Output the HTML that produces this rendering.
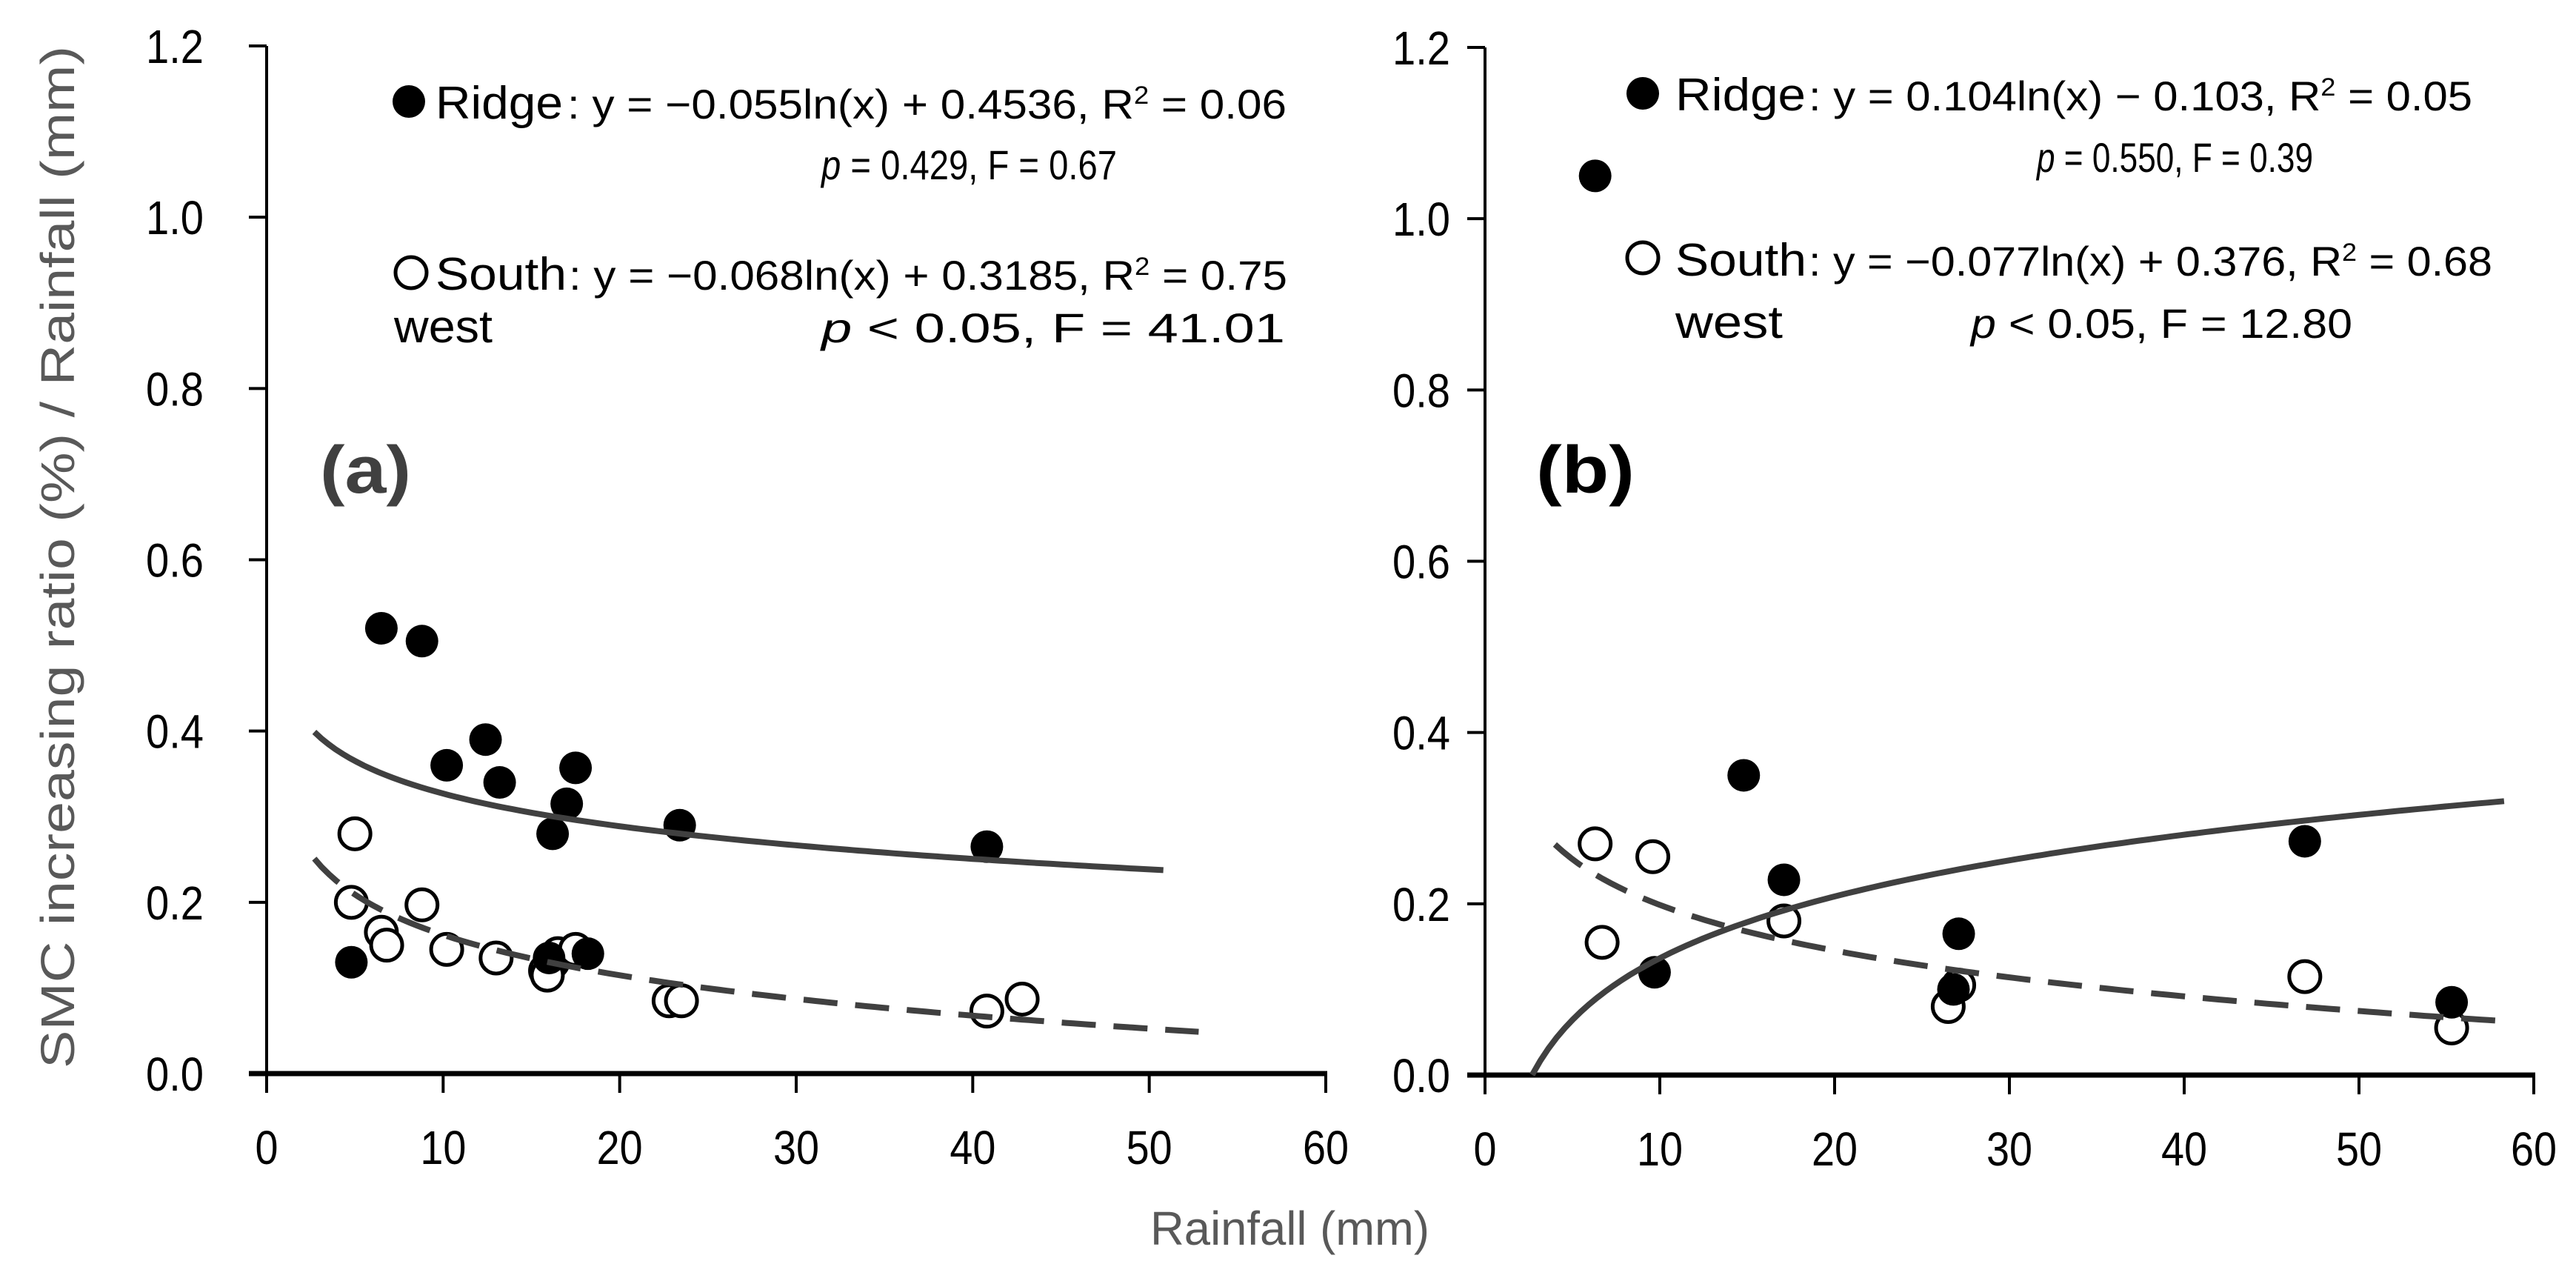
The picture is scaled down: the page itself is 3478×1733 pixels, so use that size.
<!DOCTYPE html>
<html><head><meta charset="utf-8"><style>
html,body{margin:0;padding:0;background:#fff;}
svg{display:block;font-family:"Liberation Sans",sans-serif;}
</style></head><body>
<svg id="chart" width="3478" height="1733" viewBox="0 0 3478 1733" xmlns="http://www.w3.org/2000/svg">
<rect width="3478" height="1733" fill="#fff"/>
<g id="gA"></g>
<g id="gB"></g>
<text transform="translate(100,752) rotate(-90)" text-anchor="middle" font-size="64" fill="#595959" textLength="1380" lengthAdjust="spacingAndGlyphs">SMC increasing ratio (%) / Rainfall (mm)</text>
<text x="1553" y="1680" font-size="64" fill="#595959" textLength="377" lengthAdjust="spacingAndGlyphs">Rainfall (mm)</text>

<text x="432" y="665" font-size="90" font-weight="bold" fill="#404040" textLength="123" lengthAdjust="spacingAndGlyphs">(a)</text>
<text x="2074" y="665" font-size="90" font-weight="bold" fill="#000" textLength="133" lengthAdjust="spacingAndGlyphs">(b)</text>

<g font-size="56" fill="#000">
<circle cx="552" cy="137" r="22" fill="#000"/>
<text x="588" y="160" font-size="62" textLength="172" lengthAdjust="spacingAndGlyphs">Ridge</text>
<text x="766" y="160" textLength="971" lengthAdjust="spacingAndGlyphs">: y = −0.055ln(x) + 0.4536, R<tspan font-size="34" dy="-20">2</tspan><tspan dy="20"> = 0.06</tspan></text>
<text x="1109" y="242" textLength="399" lengthAdjust="spacingAndGlyphs"><tspan font-style="italic">p</tspan> = 0.429, F = 0.67</text>
<circle cx="555" cy="368" r="21" fill="#fff" stroke="#000" stroke-width="5"/>
<text x="588" y="391" font-size="62" textLength="177" lengthAdjust="spacingAndGlyphs">South</text>
<text x="768" y="391" textLength="970" lengthAdjust="spacingAndGlyphs">: y = −0.068ln(x) + 0.3185, R<tspan font-size="34" dy="-20">2</tspan><tspan dy="20"> = 0.75</tspan></text>
<text x="532" y="462" font-size="62" textLength="133" lengthAdjust="spacingAndGlyphs">west</text>
<text x="1109" y="462" textLength="626" lengthAdjust="spacingAndGlyphs"><tspan font-style="italic">p</tspan> &lt; 0.05, F = 41.01</text>
</g>

<g font-size="56" fill="#000">
<circle cx="2218" cy="126" r="22" fill="#000"/>
<text x="2262" y="149" font-size="62" textLength="176" lengthAdjust="spacingAndGlyphs">Ridge</text>
<text x="2442" y="149" textLength="896" lengthAdjust="spacingAndGlyphs">: y = 0.104ln(x) − 0.103, R<tspan font-size="34" dy="-20">2</tspan><tspan dy="20"> = 0.05</tspan></text>
<text x="2750" y="232" textLength="373" lengthAdjust="spacingAndGlyphs"><tspan font-style="italic">p</tspan> = 0.550, F = 0.39</text>
<circle cx="2218" cy="348" r="21" fill="#fff" stroke="#000" stroke-width="5"/>
<text x="2262" y="372" font-size="62" textLength="177" lengthAdjust="spacingAndGlyphs">South</text>
<text x="2442" y="372" textLength="923" lengthAdjust="spacingAndGlyphs">: y = −0.077ln(x) + 0.376, R<tspan font-size="34" dy="-20">2</tspan><tspan dy="20"> = 0.68</tspan></text>
<text x="2262" y="456" font-size="62" textLength="145" lengthAdjust="spacingAndGlyphs">west</text>
<text x="2661" y="456" textLength="515" lengthAdjust="spacingAndGlyphs"><tspan font-style="italic">p</tspan> &lt; 0.05, F = 12.80</text>
</g>
</svg>
<script>
const xTicks = [0, 10, 20, 30, 40, 50, 60];
const yTicks = [0.0, 0.2, 0.4, 0.6, 0.8, 1.0, 1.2];
const yTickLabels = ["0.0", "0.2", "0.4", "0.6", "0.8", "1.0", "1.2"];

const ridgeAx = [6.5, 8.8, 10.2, 12.4, 13.2, 17.0, 17.5, 16.2, 23.4, 40.8, 4.8, 18.2, 16.0];
const ridgeAy = [0.52, 0.505, 0.36, 0.39, 0.34, 0.315, 0.357, 0.28, 0.29, 0.265, 0.13, 0.14, 0.135];
const swAx = [5.0, 4.8, 6.5, 6.8, 8.8, 10.2, 13.0, 15.8, 16.2, 16.5, 17.5, 22.8, 23.5, 40.8, 42.8, 15.9];
const swAy = [0.28, 0.2, 0.165, 0.15, 0.197, 0.145, 0.135, 0.12, 0.13, 0.14, 0.145, 0.085, 0.085, 0.073, 0.087, 0.115];
const ridgeBx = [6.3, 9.7, 14.8, 17.1, 26.8, 27.1, 46.9, 55.3];
const ridgeBy = [1.05, 0.12, 0.35, 0.228, 0.1, 0.165, 0.273, 0.085];
const swBx = [6.3, 6.7, 9.6, 17.1, 26.5, 27.1, 46.9, 55.3];
const swBy = [0.27, 0.155, 0.255, 0.18, 0.08, 0.105, 0.115, 0.055];

const fitRidgeA = [-0.055, 0.4536]; const rangeRidgeA = [2.7, 50.8];
const fitSwA = [-0.068, 0.3185]; const rangeSwA = [2.7, 52.8];
const fitRidgeB = [0.104, -0.103]; const rangeRidgeB = [2.7, 58.3];
const fitSwB = [-0.077, 0.376]; const rangeSwB = [4.0, 58.3];

const NS = "http://www.w3.org/2000/svg";
function mk(tag, attrs, parent) {
  const e = document.createElementNS(NS, tag);
  for (const k in attrs) e.setAttribute(k, attrs[k]);
  parent.appendChild(e);
  return e;
}
function labelLen(s) {
  let w = 0;
  for (const ch of s) w += (ch === ".") ? 16 : 31;
  return w;
}

function panel(g, x0px, x60px, y0px, ytopPx, labelRight, ridgeX, ridgeY, swX, swY, fitR, rangeR, fitS, rangeS, tag) {
  const sx = v => x0px + (x60px - x0px) * v / 60;
  const sy = v => y0px - (y0px - ytopPx) * v / 1.2;
  let e = mk("line", {x1: x0px, y1: sy(1.2), x2: x0px, y2: y0px + 26, stroke: "#000", "stroke-width": 4}, g);
  
  
  yTicks.forEach((t, i) => {
    const tk = mk("line", {x1: x0px - 24, y1: sy(t), x2: x0px, y2: sy(t), stroke: "#000", "stroke-width": 4}, g);
    
    
    const s = yTickLabels[i];
    const L = labelLen(s);
    const lb = mk("text", {x: labelRight - L, y: sy(t) + 23, "font-size": 64, fill: "#000", textLength: L, lengthAdjust: "spacingAndGlyphs"}, g);
    
    
    lb.textContent = s;
  });
  e = mk("line", {x1: x0px - 24, y1: y0px, x2: x60px + 2, y2: y0px, stroke: "#000", "stroke-width": 7}, g);
  
  
  xTicks.forEach(t => {
    const tk = mk("line", {x1: sx(t), y1: y0px, x2: sx(t), y2: y0px + 26, stroke: "#000", "stroke-width": 4}, g);
    
    
    const s = String(t);
    const L = labelLen(s);
    const lb = mk("text", {x: sx(t) - L / 2, y: y0px + 122, "font-size": 64, fill: "#000", textLength: L, lengthAdjust: "spacingAndGlyphs"}, g);
    
    
    lb.textContent = s;
  });
  function curve(fit, range, dashed, name) {
    let d = "";
    const n = 120;
    for (let i = 0; i <= n; i++) {
      const xv = range[0] + (range[1] - range[0]) * i / n;
      const yv = Math.max(0, fit[0] * Math.log(xv) + fit[1]);
      d += (i ? "L" : "M") + sx(xv).toFixed(1) + " " + sy(yv).toFixed(1);
    }
    const p = mk("path", {d: d, fill: "none", stroke: "#404040", "stroke-width": 8}, g);
    if (dashed) p.setAttribute("stroke-dasharray", "46 24");
    
    
  }
  swX.forEach((xv, i) => {
    const c = mk("circle", {cx: sx(xv), cy: sy(swY[i]), r: 21, fill: "#fff", stroke: "#000", "stroke-width": 5}, g);
    
    
  });
  ridgeX.forEach((xv, i) => {
    const c = mk("circle", {cx: sx(xv), cy: sy(ridgeY[i]), r: 22, fill: "#000"}, g);
    
    
  });
  curve(fitR, rangeR, false, 'ridge-fit-curve-' + tag);
  curve(fitS, rangeS, true, 'southwest-fit-curve-' + tag);
}

panel(document.getElementById("gA"), 360, 1790, 1449, 62, 275, ridgeAx, ridgeAy, swAx, swAy, fitRidgeA, rangeRidgeA, fitSwA, rangeSwA, "a");
panel(document.getElementById("gB"), 2005, 3421, 1451, 64, 1958, ridgeBx, ridgeBy, swBx, swBy, fitRidgeB, rangeRidgeB, fitSwB, rangeSwB, "b");
</script>
</body></html>
